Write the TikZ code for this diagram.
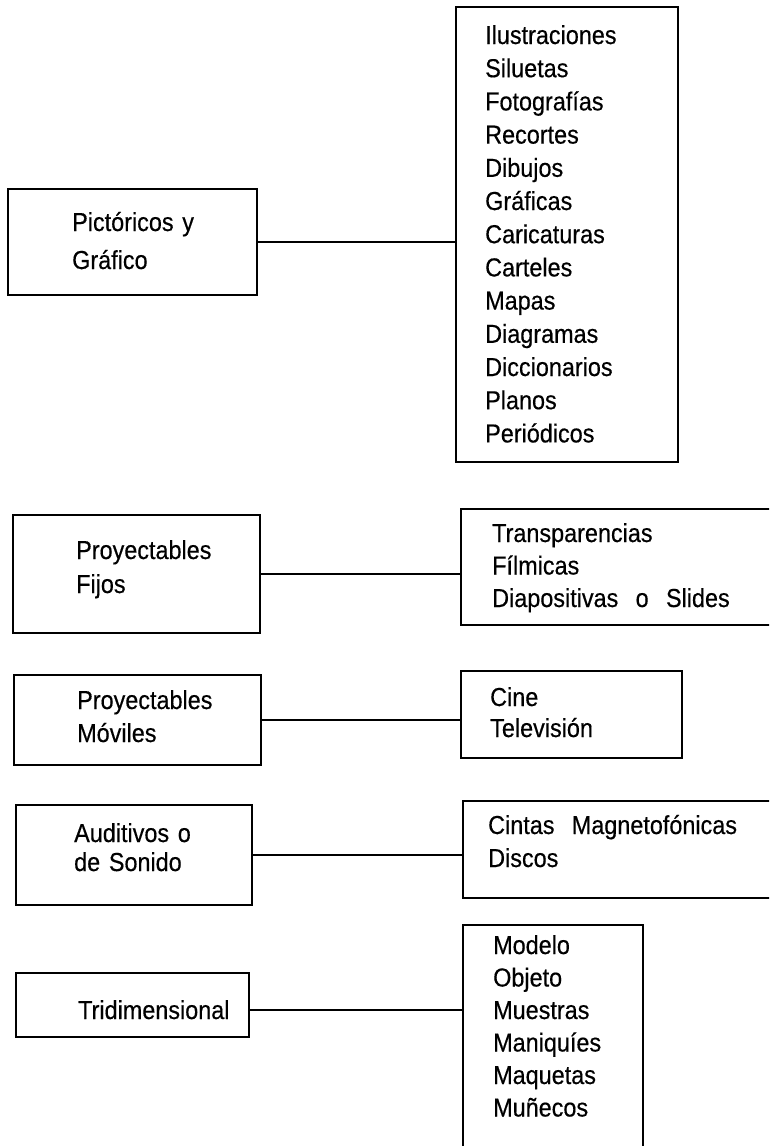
\documentclass[tikz,border=0pt]{standalone}
\usepackage{fontspec}
\setmainfont[FakeStretch=0.9,FakeBold=0.4]{Liberation Sans}
\begin{document}
\begin{tikzpicture}[x=1pt,y=-1pt,
  box/.style={draw, line width=2.8pt, rectangle, inner sep=0pt, outer sep=0pt},
  conn/.style={line width=2.8pt},
  lbl/.style={anchor=base west, inner sep=0pt, align=left, text width=270pt,
    font=\fontsize{26}{#1}\selectfont},
  lbl/.default=33.2
]
\clip (0,0) rectangle (769,1146);
\fill[white] (0,0) rectangle (769,1146);

% boxes
\node[box, minimum width=249pt, minimum height=106pt] (L1) at (132.5,242) {};
\node[box, minimum width=222pt, minimum height=455pt] (R1) at (567,234.5) {};
\node[box, minimum width=247pt, minimum height=118pt] (L2) at (136.5,574) {};
\node[box, minimum width=339pt, minimum height=116pt] (R2) at (630.5,567) {};
\node[box, minimum width=247pt, minimum height=90pt] (L3) at (137.5,720) {};
\node[box, minimum width=221pt, minimum height=87pt] (R3) at (571.5,714.5) {};
\node[box, minimum width=236pt, minimum height=100pt] (L4) at (134,855) {};
\node[box, minimum width=337pt, minimum height=97pt] (R4) at (631.5,849.5) {};
\node[box, minimum width=233pt, minimum height=64pt] (L5) at (132.5,1005) {};
\node[box, minimum width=180pt, minimum height=245pt] (R5) at (553,1047.5) {};

% texts
\node[lbl=38] (tL1) at (72,231) {Pictóricos y\\Gráfico};
\node[lbl=33.2] (tR1) at (485,44) {Ilustraciones\\Siluetas\\Fotografías\\Recortes\\Dibujos\\Gráficas\\Caricaturas\\Carteles\\Mapas\\Diagramas\\Diccionarios\\Planos\\Periódicos};
\node[lbl=34] (tL2) at (76,559) {Proyectables\\Fijos};
\node[lbl=32.5] (tR2) at (492,542) {Transparencias\\Fílmicas\\Diapositivas\ \ o\ \ Slides};
\node[lbl=33] (tL3) at (77,709) {Proyectables\\Móviles};
\node[lbl=31] (tR3) at (490,706) {Cine\\Televisión};
\node[lbl=29] (tL4) at (74,842) {Auditivos o\\de Sonido};
\node[lbl=33] (tR4) at (488,834) {Cintas\ \ Magnetofónicas\\Discos};
\node[lbl] (tL5) at (78,1019) {Tridimensional};
\node[lbl=32.5] (tR5) at (493,954) {Modelo\\Objeto\\Muestras\\Maniquíes\\Maquetas\\Muñecos};

% connectors
\draw[conn] (L1.east) -- (L1.east -| R1.west);
\draw[conn] (L2.east) -- (L2.east -| R2.west);
\draw[conn] (L3.east) -- (L3.east -| R3.west);
\draw[conn] (L4.east) -- (L4.east -| R4.west);
\draw[conn] ([yshift=-5pt]L5.east) -- ([yshift=-5pt]L5.east -| R5.west);
\end{tikzpicture}
\end{document}
